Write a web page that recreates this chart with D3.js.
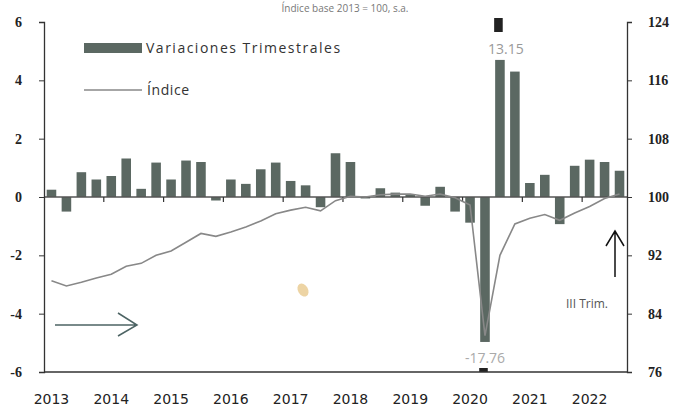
<!DOCTYPE html>
<html>
<head>
<meta charset="utf-8">
<script src="https://cdn.jsdelivr.net/npm/d3@7"></script>
<style>
  body { margin: 0; background: #fff; }
  svg { display: block; }
</style>
</head>
<body>
<div id="chart"></div>
<script>
// years shown on the axis and the quarters drawn (2013-I .. 2022-III)
const years = ["2013","2014","2015","2016","2017","2018","2019","2020","2021","2022"];
const trimestres = ["I","II","III","IV"];
const quarters = [];
years.forEach(function(y) { trimestres.forEach(function(t) { quarters.push(y + "-" + t); }); });
quarters.splice(39); // ends at 2022-III

// quarterly variation (%), left axis
const variaciones = [0.25,-0.5,0.85,0.6,0.72,1.32,0.28,1.18,0.6,1.25,1.2,-0.12,0.6,0.45,0.95,1.18,
  0.55,0.4,-0.35,1.5,1.2,-0.05,0.3,0.15,0.1,-0.3,0.35,-0.5,-0.88,-17.76,13.15,4.3,0.48,0.76,-0.93,
  1.07,1.28,1.2,0.9];

// index, right axis
const indice = [88.5,87.8,88.3,88.9,89.4,90.5,90.9,92.0,92.6,93.8,95.0,94.6,95.2,95.9,96.7,97.7,
  98.2,98.6,98.1,99.5,100.1,100.0,100.3,100.4,100.4,100.1,100.4,99.9,98.9,81.0,92.0,96.3,97.1,97.6,
  96.8,97.8,98.7,99.8,100.4];

const leftTicks = [-6,-4,-2,0,2,4,6];
const rightTicks = [76,84,92,100,108,116,124];

let width = 680, height = 407;
let mLeft = 44, mRight = 627, mTop = 22, mBottom = 372;
let barColor = "#5b6862";

let svg = d3.select("#chart")
  .append("svg")
  .attr("width", width)
  .attr("height", height);

let x = d3.scaleBand()
  .domain(quarters)
  .range([mLeft, mRight])
  .paddingInner(0.36)
  .paddingOuter(0.18);

let yL = d3.scaleLinear().domain([-6, 6]).range([mBottom, mTop]);
let yR = d3.scaleLinear().domain([76, 124]).range([mBottom, mTop]);

// bars that go off the chart are cut and labelled
let capHi = 4.7, capLo = -4.97;
function clampV(v) { return Math.max(capLo, Math.min(capHi, v)); }

//title at the top (mostly cut off in the scan)
svg.append("text")
  .attr("x", 345).attr("y", 12)
  .attr("text-anchor", "middle")
  .attr("font-family", "Open Sans")
  .attr("font-size", "10px")
  .attr("fill", "#777")
  .text("Índice base 2013 = 100, s.a.");

//bars
svg.selectAll("rect.bar")
  .data(variaciones)
  .enter()
  .append("rect")
  .attr("class", "bar")
  .attr("x", function(d, i) { return x(quarters[i]); })
  .attr("y", function(d) { return yL(Math.max(0, clampV(d))); })
  .attr("width", x.bandwidth())
  .attr("height", function(d) { return Math.abs(yL(clampV(d)) - yL(0)); })
  .attr("fill", barColor);

//labels and tips of cut bars
let cut = variaciones.map(function(d, i) { return [d, i]; }).filter(function(d) { return d[0] > capHi || d[0] < capLo; });

svg.selectAll("text.cutlabel")
  .data(cut)
  .enter()
  .append("text")
  .attr("x", function(d) { return x(quarters[d[1]]) + x.bandwidth()/2 + (d[0] > 0 ? 6 : 0); })
  .attr("y", function(d) { return d[0] > 0 ? 54 : 363; })
  .attr("text-anchor", "middle")
  .attr("font-family", "Open Sans")
  .attr("font-size", "14px")
  .attr("fill", function(d) { return d[0] > 0 ? "#999" : "#aaa"; })
  .text(function(d) { return d[0].toFixed(2); });

svg.selectAll("rect.tip")
  .data(cut)
  .enter()
  .append("rect")
  .attr("x", function(d) { return x(quarters[d[1]]) - 1; })
  .attr("y", function(d) { return d[0] > 0 ? 18 : mBottom - 4; })
  .attr("width", x.bandwidth() - 1)
  .attr("height", function(d) { return d[0] > 0 ? 14 : 4; })
  .attr("fill", "#222");

//zero line with year ticks
svg.append("line")
  .attr("x1", mLeft).attr("x2", mRight)
  .attr("y1", yL(0)).attr("y2", yL(0))
  .attr("stroke", "#555").attr("stroke-width", 1.3);

let yearStarts = years.slice(1).map(function(y) { return y + "-I"; });
svg.selectAll("line.ytick")
  .data(yearStarts)
  .enter()
  .append("line")
  .attr("x1", function(d) { return x(d) - x.step()*x.paddingInner()/2; })
  .attr("x2", function(d) { return x(d) - x.step()*x.paddingInner()/2; })
  .attr("y1", yL(0)).attr("y2", yL(0) + 5)
  .attr("stroke", "#333").attr("stroke-width", 1.2);

//index line
let line = d3.line()
  .x(function(d, i) { return x(quarters[i]) + x.bandwidth()/2; })
  .y(function(d) { return yR(d); });

svg.append("path")
  .datum(indice)
  .attr("d", line)
  .attr("fill", "none")
  .attr("stroke", "#888")
  .attr("stroke-width", 1.6);

//axes
let axL = svg.append("g")
  .attr("transform", "translate(" + mLeft + ",0)")
  .call(d3.axisLeft(yL).tickValues(leftTicks).tickSize(5).tickPadding(17).tickFormat(function(d) { return String(d); }));
let axR = svg.append("g")
  .attr("transform", "translate(" + mRight + ",0)")
  .call(d3.axisRight(yR).tickValues(rightTicks).tickSize(5).tickPadding(16));

[axL, axR].forEach(function(ax) {
  ax.select(".domain").attr("stroke", "#333").attr("stroke-width", 1.3);
  ax.selectAll(".tick line").attr("stroke", "#333");
  ax.selectAll("text")
    .attr("font-family", "Liberation Serif")
    .attr("font-weight", "bold")
    .attr("font-size", "14px")
    .attr("fill", "#222");
});

svg.append("line")
  .attr("x1", mLeft).attr("x2", mRight)
  .attr("y1", mBottom).attr("y2", mBottom)
  .attr("stroke", "#333").attr("stroke-width", 1.5);

//year labels
svg.selectAll("text.year")
  .data(years)
  .enter()
  .append("text")
  .attr("x", function(d) { return x(d + "-I") + x.bandwidth()/2; })
  .attr("y", 404)
  .attr("text-anchor", "middle")
  .attr("font-family", "DejaVu Sans")
  .attr("font-size", "14px")
  .attr("fill", "#222")
  .text(function(d) { return d; });

//legend
svg.append("rect")
  .attr("x", 84).attr("y", 43).attr("width", 58).attr("height", 10)
  .attr("fill", barColor);
svg.append("text")
  .attr("x", 146).attr("y", 53)
  .attr("font-family", "Open Sans").attr("font-size", "14px")
  .attr("letter-spacing", "1.5px")
  .attr("fill", "#333")
  .text("Variaciones Trimestrales");
svg.append("line")
  .attr("x1", 84).attr("x2", 142).attr("y1", 90).attr("y2", 90)
  .attr("stroke", "#888").attr("stroke-width", 1.6);
svg.append("text")
  .attr("x", 147).attr("y", 95)
  .attr("font-family", "Open Sans").attr("font-size", "14px")
  .attr("letter-spacing", "0.6px")
  .attr("fill", "#333")
  .text("Índice");

//annotations
svg.append("path")
  .attr("d", "M55,325 L137,325 M118,313 L137,325 L118,336")
  .attr("fill", "none").attr("stroke", "#4d6464").attr("stroke-width", 1.5);
svg.append("path")
  .attr("d", "M615,277 L615,231 M606,246 L615,231 L624,246")
  .attr("fill", "none").attr("stroke", "#111").attr("stroke-width", 1.5);
svg.append("text")
  .attr("x", 566).attr("y", 308)
  .attr("font-family", "Open Sans").attr("font-size", "12px")
  .attr("fill", "#555")
  .text("III Trim.");

//scan smudge
svg.append("ellipse")
  .attr("cx", 303).attr("cy", 290).attr("rx", 5).attr("ry", 7)
  .attr("transform", "rotate(-30,303,290)")
  .attr("fill", "#e6c27e").attr("opacity", 0.7);
</script>
</body>
</html>
